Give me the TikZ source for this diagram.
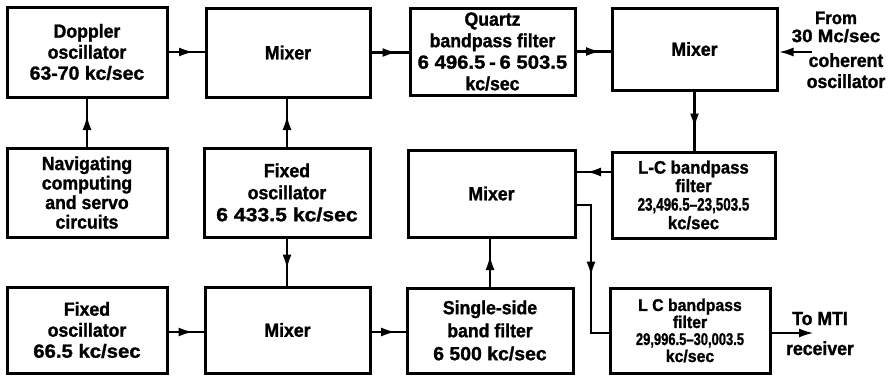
\documentclass[tikz,border=0pt]{standalone}
\usepackage{fontspec}
\setmainfont{Liberation Sans}[FakeStretch=0.93, BoldFeatures={FakeBold=1.3}]
\usepackage{graphicx}
\usetikzlibrary{arrows.meta,decorations.markings,calc}
\newcommand\wline[2][1.12]{\scalebox{#1}[1]{#2}}
\newcommand\fsz[2]{\fontsize{#1}{#2}\selectfont\bfseries}
\begin{document}
\begin{tikzpicture}[x=1pt,y=-1pt,
  blk/.style={draw, line width=3pt, align=center, inner sep=0pt, font={\fsz{19}{21}}},
  lbl/.style={align=center, inner sep=0pt, font={\fsz{19}{21}}},
  conn/.style={line width=2.6pt},
  midarrow/.style={conn, postaction={decorate}, decoration={markings,
     mark=at position 0.5 with {\arrow[xshift=7.5pt]{Latex[length=15pt,width=9pt]}}}},
  endarrow/.style={conn, -{Latex[length=15pt,width=9pt]}}]
\useasboundingbox (0,0) rectangle (895,376);

% row 1
\node[blk, minimum width=160pt, minimum height=90pt] (dop) at (87,52) {Doppler\\oscillator\\\wline[1.1]{63-70 kc/sec}};
\node[blk, minimum width=164pt, minimum height=89pt] (mix1) at (288,52.5) {Mixer};
\node[blk, minimum width=165pt, minimum height=87pt, font={\fsz{19}{21.5}}] (qz) at (492.5,51.5) {Quartz\\bandpass filter\\\wline[1.15]{6 496.5\,-\,6 503.5}\\kc/sec};
\node[blk, minimum width=165pt, minimum height=82pt] (mix2) at (694.5,49) {Mixer};

% row 2
\node[blk, minimum width=160pt, minimum height=89pt, font={\fsz{19}{19.5}}] (nav) at (87,192.5) {Navigating\\computing\\and servo\\circuits};
\node[blk, minimum width=166pt, minimum height=89pt, font={\fsz{19}{22}}] (fix2) at (287,192.5) {Fixed\\oscillator\\\wline[1.2]{6 433.5 kc/sec}};
\node[blk, minimum width=167pt, minimum height=87pt] (mix3) at (491.5,193.5) {Mixer};
\node[blk, minimum width=163pt, minimum height=86pt, font={\fsz{18}{18.5}}] (lc1) at (693.5,195) {L-C bandpass\\filter\\\wline[0.8]{23,496.5–23,503.5}\\kc/sec};

% row 3
\node[blk, minimum width=160pt, minimum height=86pt] (fix1) at (87,330) {Fixed\\oscillator\\\wline[1.15]{66.5 kc/sec}};
\node[blk, minimum width=165pt, minimum height=86pt] (mix4) at (287.5,330) {Mixer};
\node[blk, minimum width=166pt, minimum height=85pt, font={\fsz{19}{23}}] (ssb) at (490,330.5) {Single-side\\band filter\\\wline[1.1]{6 500 kc/sec}};
\node[blk, minimum width=160pt, minimum height=85pt, font={\fsz{17}{17}}] (lc2) at (690,330.5) {L C bandpass\\filter\\\wline[0.82]{29,996.5–30,003.5}\\kc/sec};

% outside labels
\node[lbl, anchor=north, font={\fsz{18}{18}}] (from) at (836,11.5) {From\\\wline[1.12]{30 Mc/sec}};
\node[lbl, anchor=north] (coh) at (846,53) {coherent\\oscillator};
\node[lbl, anchor=base] (tomti) at (820,325) {To MTI};
\node[lbl, anchor=base] (recv) at (820,355) {receiver};

% helper coordinates
\coordinate (cin) at (812,52);
\coordinate (mti) at (814,333);
\coordinate (r2) at (0,172);
\coordinate (r3) at (0,332);
\coordinate (b1) at (591,205);
\coordinate (b2) at (591,333);

% row 1 connectors
\draw[midarrow] (dop.east) -- (dop.east -| mix1.west);
\draw[midarrow] (mix1.east) -- (mix1.east -| qz.west);
\draw[midarrow] (qz.east) -- (qz.east -| mix2.west);
\draw[endarrow] (cin) -- (cin -| mix2.east);

% verticals
\draw[midarrow] (nav.north) -- (dop.south);
\draw[midarrow] (fix2.north) -- (fix2.north |- mix1.south);
\draw[midarrow] (fix2.south) -- (fix2.south |- mix4.north);
\draw[midarrow] (mix2.south) -- (mix2.south |- lc1.north);
\draw[midarrow] (ssb.north) -- (ssb.north |- mix3.south);

% L-C to mixer
\draw[midarrow] (lc1.west |- r2) -- (mix3.east |- r2);

% branch from mixer 3 to L C filter
\draw[conn, line join=miter] (mix3.east |- b1) -- (b1) -- (b2) -- (lc2.west |- b2);
\draw[midarrow] (b1) -- (b2);

% row 3 connectors
\draw[midarrow] (fix1.east |- r3) -- (mix4.west |- r3);
\draw[midarrow] (mix4.east |- r3) -- (ssb.west |- r3);
\draw[endarrow] (lc2.east |- mti) -- (mti);
\end{tikzpicture}
\end{document}
